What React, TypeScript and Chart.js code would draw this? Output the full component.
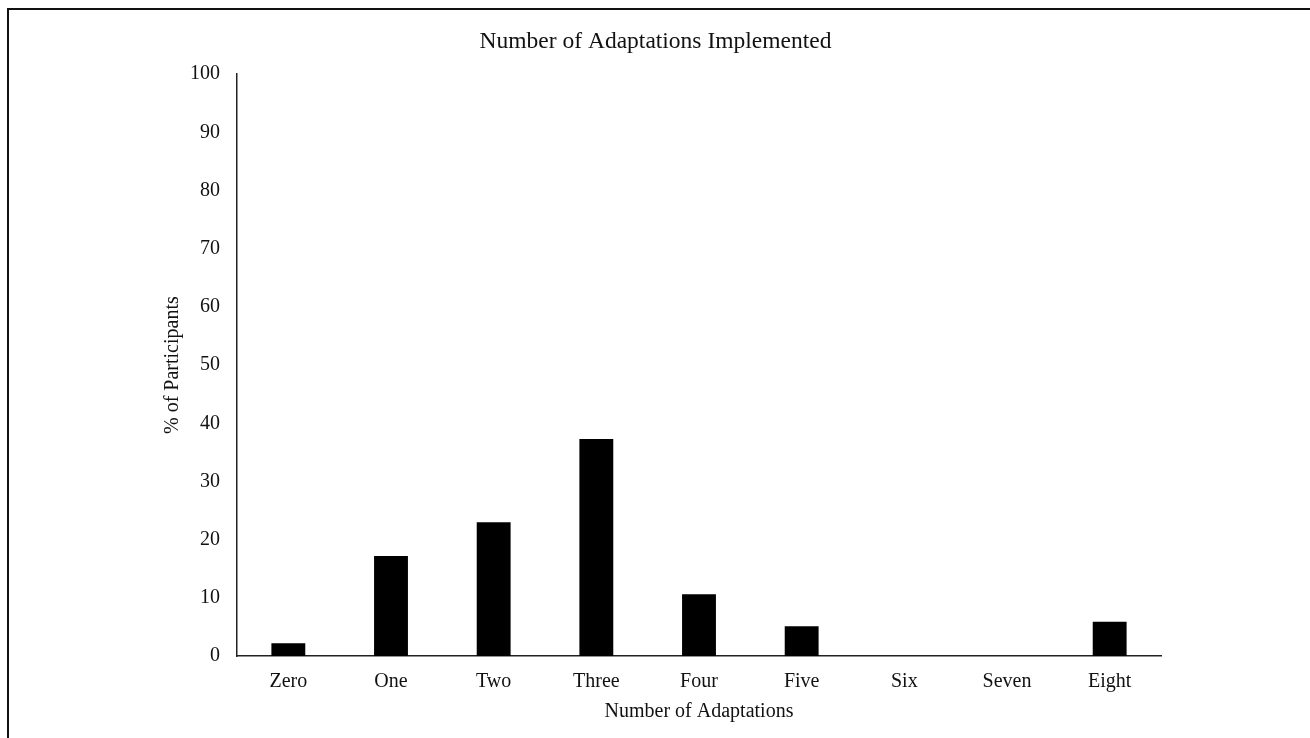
import React, { useEffect, useRef } from "react";
import { Chart, registerables } from "chart.js";

Chart.register(...registerables);

const categories = ["Zero", "One", "Two", "Three", "Four", "Five", "Six", "Seven", "Eight"];
const percentParticipants = [2.2, 17.2, 23.0, 37.3, 10.6, 5.1, 0, 0, 5.9];
const chartTitle = "Number of Adaptations Implemented";
const xAxisTitle = "Number of Adaptations";
const yAxisTitle = "% of Participants";

const FONT = '"Liberation Serif", "Times New Roman", Times, serif';

export default function App() {
  const canvasRef = useRef<HTMLCanvasElement | null>(null);

  useEffect(() => {
    const canvas = canvasRef.current;
    if (!canvas) return;
    const chart = new Chart(canvas, {
      type: "bar",
      data: {
        labels: categories,
        datasets: [
          {
            label: yAxisTitle,
            data: percentParticipants,
            backgroundColor: "#000000",
            borderWidth: 0,
            barPercentage: 0.33,
            categoryPercentage: 1,
          },
        ],
      },
      options: {
        responsive: false,
        animation: false,
        layout: { padding: { left: 150, right: 149, top: 8, bottom: 12 } },
        plugins: {
          legend: { display: false },
          tooltip: { enabled: false },
          title: {
            display: true,
            text: chartTitle,
            color: "#111",
            font: { family: FONT, size: 23.5, weight: "normal" },
            padding: { top: 20, bottom: 18 },
          },
        },
        scales: {
          x: {
            afterFit: (scale: any) => {
              scale.height = 70;
            },
            grid: { display: false, drawTicks: false },
            border: { display: true, color: "#222", width: 1.5 },
            ticks: {
              color: "#111",
              font: { family: FONT, size: 20 },
              padding: 14,
              maxRotation: 0,
            },
            title: {
              display: true,
              text: xAxisTitle,
              color: "#111",
              font: { family: FONT, size: 20 },
              padding: { top: 0, bottom: 2 },
            },
          },
          y: {
            min: 0,
            max: 100,
            afterFit: (scale: any) => {
              scale.width = 87;
            },
            grid: { display: false, drawTicks: false },
            border: { display: true, color: "#222", width: 1.5 },
            ticks: {
              stepSize: 10,
              color: "#111",
              font: { family: FONT, size: 20 },
              padding: 17,
            },
            title: {
              display: true,
              text: yAxisTitle,
              color: "#111",
              font: { family: FONT, size: 20 },
              padding: { top: 11, bottom: 0 },
            },
          },
        },
      },
    });
    return () => chart.destroy();
  }, []);

  return (
    <div style={{ position: "fixed", left: 0, top: 0, width: 1310, height: 738, background: "#fff", overflow: "hidden" }}>
      <div
        style={{
          position: "absolute",
          left: 7,
          top: 8,
          width: 1303,
          height: 730,
          borderTop: "2px solid #111",
          borderLeft: "2px solid #111",
          boxSizing: "border-box",
        }}
      />
      <canvas ref={canvasRef} width={1310} height={738} style={{ position: "absolute", left: 0, top: 0 }} />
    </div>
  );
}
